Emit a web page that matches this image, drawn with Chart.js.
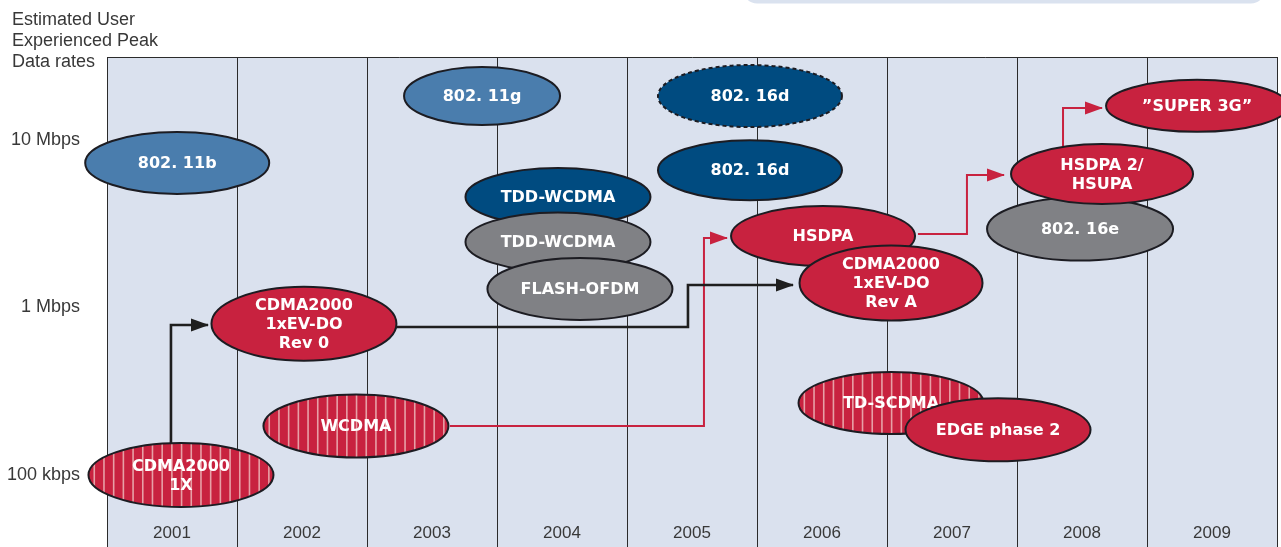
<!DOCTYPE html>
<html>
<head>
<meta charset="utf-8">
<script src="https://cdn.jsdelivr.net/npm/chart.js@4.4.0/dist/chart.umd.min.js"></script>
<style>
  html, body { margin: 0; padding: 0; background: #fff; }
</style>
</head>
<body>
<canvas id="graficoTaxas" width="1281" height="547"></canvas>
<script>
// Anos
const years = [2001, 2002, 2003, 2004, 2005, 2006, 2007, 2008, 2009];

// Taxas de pico (Mbps) marcadas no eixo
const rateTicks = [0.1, 1, 10];
const rateTickLabels = ["100 kbps", "1 Mbps", "10 Mbps"];

// Tecnologias (ordem = ordem de desenho)
const techNames = [
  "802. 11b", "802. 11g", "802. 16d", "802. 16d",
  "TDD-WCDMA", "TDD-WCDMA", "FLASH-OFDM",
  "HSDPA", "CDMA2000\n1xEV-DO\nRev A",
  "802. 16e", "HSDPA 2/\nHSUPA", "\u201DSUPER 3G\u201D",
  "CDMA2000\n1xEV-DO\nRev 0", "WCDMA", "CDMA2000\n1X",
  "TD-SCDMA", "EDGE phase 2"
];
const techYear = [
  2001.04, 2003.385, 2005.446, 2005.446,
  2003.969, 2003.969, 2004.138,
  2006.008, 2006.531,
  2007.985, 2008.154, 2008.885,
  2002.015, 2002.415, 2001.069,
  2006.531, 2007.354
];
const techRate = [
  7.3, 18.3, 18.3, 6.6,
  4.57, 2.46, 1.29,
  2.67, 1.40,
  2.94, 6.27, 16.0,
  0.80, 0.196, 0.10,
  0.269, 0.186
];

// Setas (x = ano, y = Mbps)
const arrow1xX = [2000.992, 2000.992, 2001.277];
const arrow1xY = [0.15, 0.786, 0.786];
const arrowRev0X = [2002.715, 2004.969, 2004.969, 2005.777];
const arrowRev0Y = [0.765, 0.765, 1.362, 1.362];
const arrowWcdmaX = [2003.138, 2005.092, 2005.092, 2005.269];
const arrowWcdmaY = [0.196, 0.196, 2.60, 2.60];
const arrowHsdpaX = [2006.738, 2007.115, 2007.115, 2007.40];
const arrowHsdpaY = [2.75, 2.75, 6.18, 6.18];
const arrowHsdpa2X = [2007.854, 2007.854, 2008.154];
const arrowHsdpa2Y = [9.2, 15.5, 15.5];

// Aparencia de cada elipse: tipo, largura, altura (px)
const techLook = [
  ["wlan", 184, 62], ["wlan", 156, 58], ["navyDash", 184, 62], ["navy", 184, 60],
  ["navy", 185, 58], ["gray", 185, 59], ["gray", 185, 62],
  ["red", 184, 60], ["red", 183, 75],
  ["gray", 186, 63], ["red", 182, 60], ["red", 182, 52],
  ["red", 185, 74], ["redStripe", 185, 63], ["redStripe", 185, 64],
  ["redStripe", 185, 62], ["red", 185, 63]
];
const fills = {
  wlan: "#4a7dad", navy: "#004b80", navyDash: "#004b80",
  gray: "#808185", red: "#c8223f", redStripe: "#c8223f"
};

const BLACK = "#1e1e1e";
const RED = "#c8223f";

function pts(xs, ys) {
  return xs.map((x, i) => ({ x: x, y: ys[i] }));
}
function arrowSet(xs, ys, color, width) {
  return {
    data: pts(xs, ys),
    showLine: true,
    borderColor: color,
    backgroundColor: color,
    borderWidth: width,
    pointRadius: 0,
    pointHoverRadius: 0,
    borderJoinStyle: "miter",
    arrow: true
  };
}

const plotBackground = {
  id: "plotBackground",
  beforeDraw(chart) {
    const { ctx, chartArea: a } = chart;
    ctx.save();
    ctx.fillStyle = "#dae2ef";
    ctx.beginPath();
    ctx.roundRect(743, -30, 522, 33.5, 14);
    ctx.fill();
    ctx.fillStyle = "#dae1ee";
    ctx.fillRect(a.left, a.top, a.right - a.left, a.bottom - a.top);
    ctx.restore();
  },
  beforeDatasetsDraw(chart) {
    const { ctx, chartArea: a } = chart;
    ctx.save();
    ctx.strokeStyle = "#2b2b2b";
    ctx.lineWidth = 1;
    ctx.beginPath();
    ctx.moveTo(a.left, a.top + 0.5);
    ctx.lineTo(a.right + 1, a.top + 0.5);
    ctx.stroke();
    ctx.restore();
  },
  afterDraw(chart) {
    const ctx = chart.ctx;
    const xs = chart.scales.x;
    ctx.save();
    ctx.fillStyle = "#383838";
    ctx.font = "18px 'Liberation Sans', Arial, sans-serif";
    ctx.textBaseline = "middle";
    ctx.textAlign = "left";
    ["Estimated User", "Experienced Peak", "Data rates"].forEach((t, i) => {
      ctx.fillText(t, 12, 20 + i * 21);
    });
    ctx.font = "17px 'Liberation Sans', Arial, sans-serif";
    ctx.textAlign = "center";
    years.forEach(y => ctx.fillText(String(y), xs.getPixelForValue(y), 533));
    ctx.restore();
  }
};

const bubbles = {
  id: "bubbles",
  afterDatasetsDraw(chart) {
    const ctx = chart.ctx;
    ctx.save();
    // pontas das setas
    chart.data.datasets.forEach((ds, di) => {
      if (!ds.arrow) return;
      const els = chart.getDatasetMeta(di).data;
      const p1 = els[els.length - 2], p2 = els[els.length - 1];
      const ang = Math.atan2(p2.y - p1.y, p2.x - p1.x);
      ctx.save();
      ctx.translate(p2.x, p2.y);
      ctx.rotate(ang);
      ctx.fillStyle = ds.borderColor;
      ctx.beginPath();
      ctx.moveTo(1, 0);
      ctx.lineTo(-17, -6.5);
      ctx.lineTo(-17, 6.5);
      ctx.closePath();
      ctx.fill();
      ctx.restore();
    });
    // elipses
    const di = chart.data.datasets.length - 1;
    chart.getDatasetMeta(di).data.forEach((el, i) => {
      const [kind, w, h] = techLook[i];
      const cx = el.x, cy = el.y;
      ctx.beginPath();
      ctx.ellipse(cx, cy, w / 2, h / 2, 0, 0, Math.PI * 2);
      ctx.fillStyle = fills[kind];
      ctx.fill();
      if (kind === "redStripe") {
        ctx.save();
        ctx.clip();
        ctx.fillStyle = "#e7a0a6";
        for (let x = cx - w / 2 + 5; x < cx + w / 2; x += 9.7) {
          ctx.fillRect(x, cy - h / 2, 1.6, h);
        }
        ctx.restore();
        ctx.beginPath();
        ctx.ellipse(cx, cy, w / 2, h / 2, 0, 0, Math.PI * 2);
      }
      ctx.lineWidth = 2;
      ctx.strokeStyle = "#1c1c22";
      ctx.setLineDash(kind === "navyDash" ? [4, 3] : []);
      ctx.stroke();
      ctx.setLineDash([]);
      ctx.fillStyle = "#fff";
      ctx.font = "bold 16px 'DejaVu Sans', Verdana, sans-serif";
      ctx.textAlign = "center";
      ctx.textBaseline = "middle";
      const lines = techNames[i].split("\n");
      lines.forEach((t, k) => {
        ctx.fillText(t, cx, cy + (k - (lines.length - 1) / 2) * 19 + 1);
      });
    });
    ctx.restore();
  }
};

new Chart(document.getElementById("graficoTaxas"), {
  type: "scatter",
  data: {
    datasets: [
      arrowSet(arrow1xX, arrow1xY, BLACK, 2.6),
      arrowSet(arrowRev0X, arrowRev0Y, BLACK, 2.6),
      arrowSet(arrowWcdmaX, arrowWcdmaY, RED, 2),
      arrowSet(arrowHsdpaX, arrowHsdpaY, RED, 2),
      arrowSet(arrowHsdpa2X, arrowHsdpa2Y, RED, 2),
      {
        data: pts(techYear, techRate),
        pointRadius: 0,
        pointHoverRadius: 0,
        pointHitRadius: 0
      }
    ]
  },
  options: {
    responsive: false,
    devicePixelRatio: 1,
    animation: false,
    layout: { padding: { top: 57, right: 4, bottom: 0, left: 0 } },
    plugins: {
      legend: { display: false },
      tooltip: { enabled: false }
    },
    scales: {
      x: {
        type: "linear",
        min: 2000.5,
        max: 2009.5,
        afterFit: s => { s.height = 0; s.paddingLeft = 0; s.paddingRight = 0; },
        ticks: { stepSize: 1, display: false },
        grid: { color: "#2b2b2b", lineWidth: 1, drawTicks: false },
        border: { display: false }
      },
      y: {
        type: "logarithmic",
        min: 0.03716,
        max: 31.3,
        afterBuildTicks: s => { s.ticks = rateTicks.map(v => ({ value: v })); },
        afterFit: s => { s.width = 107; s.paddingTop = 0; s.paddingBottom = 0; },
        ticks: {
          padding: 27,
          color: "#383838",
          font: { family: "'Liberation Sans', Arial, sans-serif", size: 18 },
          callback: v => rateTickLabels[rateTicks.indexOf(v)]
        },
        grid: { display: false, drawTicks: false },
        border: { display: false }
      }
    }
  },
  plugins: [plotBackground, bubbles]
});
</script>
</body>
</html>
